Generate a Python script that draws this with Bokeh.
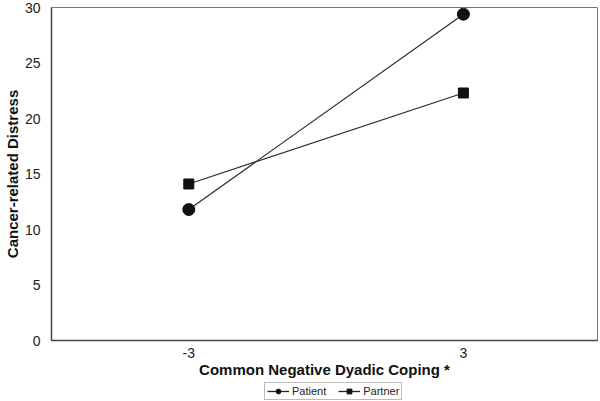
from bokeh.plotting import figure
from bokeh.layouts import column
from bokeh.models import Range1d, FixedTicker, Legend, LegendItem
from bokeh.embed import file_html
from bokeh.resources import INLINE

# Data
x_levels = [-3, 3]
x_tick_labels = {-3: "-3", 3: "3"}
patient = [11.8, 29.4]
partner = [14.1, 22.3]
y_ticks = [0, 5, 10, 15, 20, 25, 30]
series_names = ["Patient", "Partner"]

FONT = "Liberation Sans"

p = figure(width=599, height=380, output_backend="svg", toolbar_location=None,
           x_range=Range1d(-6.0, 5.93), y_range=Range1d(0, 30),
           min_border_left=38, min_border_right=2, min_border_top=7, min_border_bottom=30)

p.xgrid.visible = False
p.ygrid.visible = False
p.outline_line_color = "#777777"
p.outline_line_width = 1
p.background_fill_color = "white"
p.border_fill_color = "white"

p.line(x_levels, patient, line_color="#2a2a2a", line_width=1.2)
p.scatter(x_levels, patient, marker="circle", size=12, fill_color="#111111", line_color="#111111")
p.line(x_levels, partner, line_color="#2a2a2a", line_width=1.2)
p.scatter(x_levels, partner, marker="square", size=10, fill_color="#111111", line_color="#111111")

# Axes
xa = p.xaxis[0]
xa.ticker = FixedTicker(ticks=x_levels)
xa.major_label_overrides = x_tick_labels
xa.major_tick_line_color = None
xa.minor_tick_line_color = None
xa.axis_line_color = "#444444"
xa.axis_line_width = 1.5
xa.major_label_text_font = FONT
xa.major_label_text_font_size = "14px"
xa.major_label_text_color = "#222222"
xa.major_label_standoff = 1
xa.axis_label = "Common Negative Dyadic Coping *"
xa.axis_label_text_font = FONT
xa.axis_label_text_font_style = "bold"
xa.axis_label_text_font_size = "15px"
xa.axis_label_text_color = "#111111"
xa.axis_label_standoff = 0

ya = p.yaxis[0]
ya.ticker = FixedTicker(ticks=y_ticks)
ya.major_tick_line_color = None
ya.minor_tick_line_color = None
ya.axis_line_color = "#444444"
ya.axis_line_width = 1.5
ya.major_label_text_font = FONT
ya.major_label_text_font_size = "14px"
ya.major_label_text_color = "#222222"
ya.major_label_standoff = 5
ya.axis_label = "Cancer-related Distress"
ya.axis_label_text_font = FONT
ya.axis_label_text_font_style = "bold"
ya.axis_label_text_font_size = "15px"
ya.axis_label_text_color = "#111111"
ya.axis_label_standoff = 1

# Legend strip below the chart (its renderers sit outside its visible range)
p2 = figure(width=599, height=21, output_backend="svg", toolbar_location=None,
            x_range=Range1d(100, 101), y_range=Range1d(100, 101),
            x_axis_location=None, y_axis_location=None,
            min_border=0, min_border_left=0, min_border_right=0, min_border_top=0, min_border_bottom=0)
p2.xgrid.visible = False
p2.ygrid.visible = False
p2.outline_line_color = None
p2.border_fill_color = "white"

e1 = p2.line(x_levels, patient, line_color="#222222", line_width=1.3)
m1 = p2.scatter(x_levels, patient, marker="circle", size=7, fill_color="#111111", line_color="#111111")
e2 = p2.line(x_levels, partner, line_color="#222222", line_width=1.3)
m2 = p2.scatter(x_levels, partner, marker="square", size=6, fill_color="#111111", line_color="#111111")

legend = Legend(items=[LegendItem(label=series_names[0], renderers=[e1, m1]),
                       LegendItem(label=series_names[1], renderers=[e2, m2])],
                orientation="horizontal", location=(213, 1),
                label_text_font=FONT, label_text_font_size="11px", label_text_color="#222222",
                glyph_width=22, glyph_height=12, label_standoff=3, spacing=12,
                padding=2, margin=0, border_line_color="#777777", border_line_width=1)
p2.add_layout(legend, "center")

open("out.html", "w").write(file_html(column(p, p2, spacing=0), INLINE))
